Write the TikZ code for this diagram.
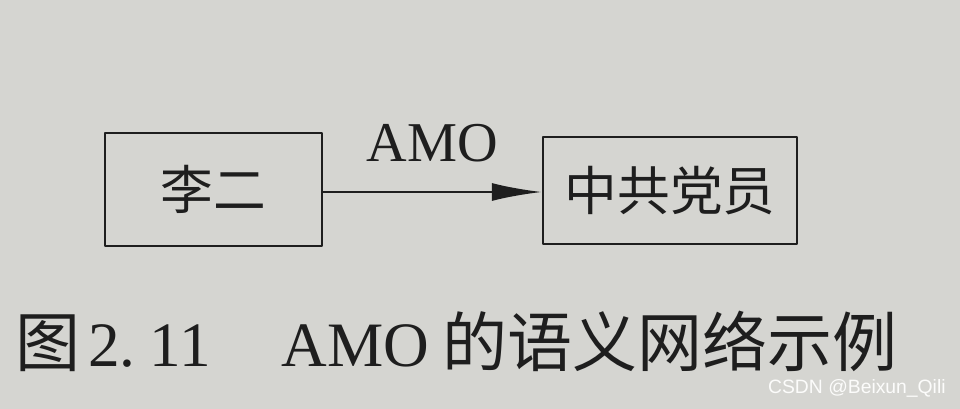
\documentclass[tikz,border=0pt]{standalone}
\usepackage{fontspec}
\setmainfont{Liberation Serif}
\newfontfamily\cjk{Noto Sans CJK SC}
\newfontfamily\wmfont{Liberation Sans}
\usetikzlibrary{arrows.meta,positioning}
\definecolor{paper}{RGB}{213,213,209}
\definecolor{ink}{RGB}{30,30,30}
\begin{document}
\begin{tikzpicture}[x=0.02cm,y=-0.02cm,line cap=round,line join=round,
  concept/.style={draw=ink,line width=1.4pt,inner sep=0pt,font=\cjk\fontsize{30}{30}\selectfont,text=ink},
  relation/.style={draw=ink,line width=1.3pt,-{Latex[length=1cm,width=0.36cm]}}]
  \fill[paper] (0,0) rectangle (960,409);
  \useasboundingbox (0,0) rectangle (960,409);
  \node[concept,minimum width=4.34cm,minimum height=2.26cm] (lier) at (213.5,189.5) {李二};
  \node[concept,minimum width=5.08cm,minimum height=2.14cm] (party) at (670,190.5) {中共党员};
  \draw[relation] ([yshift=-0.05cm]lier.east) -- node[above=0.45cm,text=ink,font=\fontsize{32}{32}\selectfont] (amo) {AMO} ([yshift=-0.03cm]party.west);
  \node[anchor=west,text=ink,inner sep=0pt,font=\fontsize{36}{36}\selectfont] (caption) at (15,341)
   {{\cjk\fontsize{37}{37}\selectfont 图}\hspace{0.16cm}2.\hspace{0.28cm}11\hspace{1.42cm}AMO\hspace{0.26cm}{\cjk\fontsize{37}{37}\selectfont 的语义网络示例}};
  \node[anchor=east,inner sep=0pt,text=white!92!paper,font=\wmfont\fontsize{11}{11}\selectfont] (mark) at (946,388) {CSDN @Beixun\_Qili};
\end{tikzpicture}
\end{document}
